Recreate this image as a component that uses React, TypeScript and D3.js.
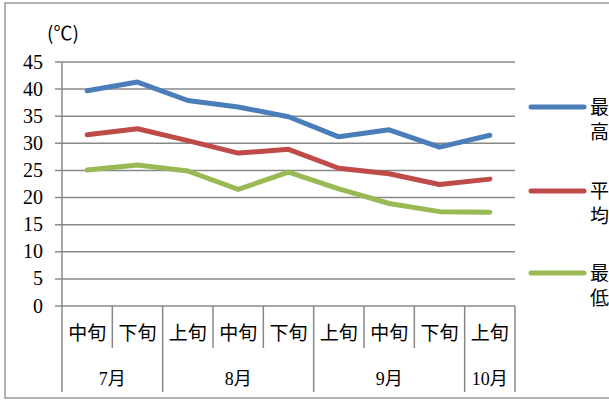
import React from "react";
import * as d3 from "d3";

// 旬ごとの気温（℃）
const periods = ["中旬", "下旬", "上旬", "中旬", "下旬", "上旬", "中旬", "下旬", "上旬"];
const months = [
  { label: "7月", span: 2 },
  { label: "8月", span: 3 },
  { label: "9月", span: 3 },
  { label: "10月", span: 1 },
];
const maxTemp = [39.7, 41.3, 37.9, 36.7, 34.9, 31.2, 32.5, 29.3, 31.5];
const avgTemp = [31.6, 32.7, 30.5, 28.2, 28.9, 25.4, 24.4, 22.4, 23.4];
const minTemp = [25.1, 26.0, 24.9, 21.5, 24.7, 21.6, 18.9, 17.4, 17.3];
const yTicks = [0, 5, 10, 15, 20, 25, 30, 35, 40, 45];

const seriesList = [
  { name: ["最", "高"], values: maxTemp, color: "#4a7ebb" },
  { name: ["平", "均"], values: avgTemp, color: "#be4b48" },
  { name: ["最", "低"], values: minTemp, color: "#98b954" },
];

const W = 609;
const H = 401;
const left = 62;
const right = 515;
const top = 62;
const bottom = 306;
const catBottom = 348;
const monthBottom = 392;

const serif = "'Liberation Serif', 'Noto Sans CJK JP', serif";
const gridColor = "#888888";

export default function App() {
  const idx = periods.map((_, i) => String(i));
  const x = d3.scaleBand().domain(idx).range([left, right]).padding(0);
  const y = d3.scaleLinear().domain([0, 45]).range([bottom, top]);
  const cx = (i: number) => (x(String(i)) as number) + x.bandwidth() / 2;

  const line = d3
    .line<number>()
    .x((_, i) => cx(i))
    .y((d) => y(d));

  // month boundaries
  let acc = 0;
  const monthBlocks = months.map((m) => {
    const start = acc;
    acc += m.span;
    return { ...m, start, end: acc };
  });
  const bx = (i: number) => (i >= periods.length ? right : (x(String(i)) as number));

  const legendY = [107, 191, 273];

  return (
    <svg
      width={W}
      height={H}
      style={{ position: "absolute", left: 0, top: 0, background: "#fff" }}
    >
      <rect x={5} y={3} width={620} height={395} fill="#fff" stroke="#9a9a9a" strokeWidth={1.5} />

      {/* unit */}
      <text x={47} y={40} fontSize={19} fontFamily="'Noto Sans CJK JP', sans-serif" fill="#000">
        (℃)
      </text>

      {/* grid + y ticks */}
      {yTicks.map((t) => (
        <g key={t}>
          <line x1={55} x2={right} y1={y(t)} y2={y(t)} stroke={gridColor} strokeWidth={1.5} />
          <text
            x={43}
            y={y(t)}
            dy="0.33em"
            textAnchor="end"
            fontSize={20}
            fontFamily={serif}
            fill="#000"
          >
            {t}
          </text>
        </g>
      ))}

      {/* y axis line */}
      <line x1={left} x2={left} y1={top} y2={monthBottom} stroke={gridColor} strokeWidth={1.5} />

      {/* category separators */}
      {periods.map((_, i) =>
        i === 0 ? null : (
          <line
            key={"s" + i}
            x1={bx(i)}
            x2={bx(i)}
            y1={bottom}
            y2={monthBlocks.some((m) => m.start === i) ? monthBottom : catBottom}
            stroke={gridColor}
            strokeWidth={1.5}
          />
        )
      )}
      <line x1={right} x2={right} y1={bottom} y2={monthBottom} stroke={gridColor} strokeWidth={1.5} />

      {/* category labels */}
      {periods.map((p, i) => (
        <text
          key={"p" + i}
          x={cx(i)}
          y={333}
          dy="0.36em"
          textAnchor="middle"
          fontSize={19}
          fontFamily={serif}
          fill="#000"
        >
          {p}
        </text>
      ))}
      {monthBlocks.map((m) => (
        <text
          key={m.label}
          x={(bx(m.start) + bx(m.end)) / 2}
          y={379}
          dy="0.36em"
          textAnchor="middle"
          fontSize={18}
          fontFamily={serif}
          fill="#000"
        >
          {m.label}
        </text>
      ))}

      {/* series */}
      {seriesList.map((s) => (
        <path
          key={s.color}
          d={line(s.values) || ""}
          fill="none"
          stroke={s.color}
          strokeWidth={5}
          strokeLinecap="round"
          strokeLinejoin="round"
        />
      ))}

      {/* legend */}
      {seriesList.map((s, k) => (
        <g key={"l" + k}>
          <line
            x1={531}
            x2={584}
            y1={legendY[k]}
            y2={legendY[k]}
            stroke={s.color}
            strokeWidth={5}
            strokeLinecap="round"
          />
          {s.name.map((c, j) => (
            <text
              key={j}
              x={590}
              y={legendY[k] + j * 25}
              dy="0.36em"
              fontSize={19}
              fontFamily={serif}
              fill="#000"
            >
              {c}
            </text>
          ))}
        </g>
      ))}
    </svg>
  );
}
